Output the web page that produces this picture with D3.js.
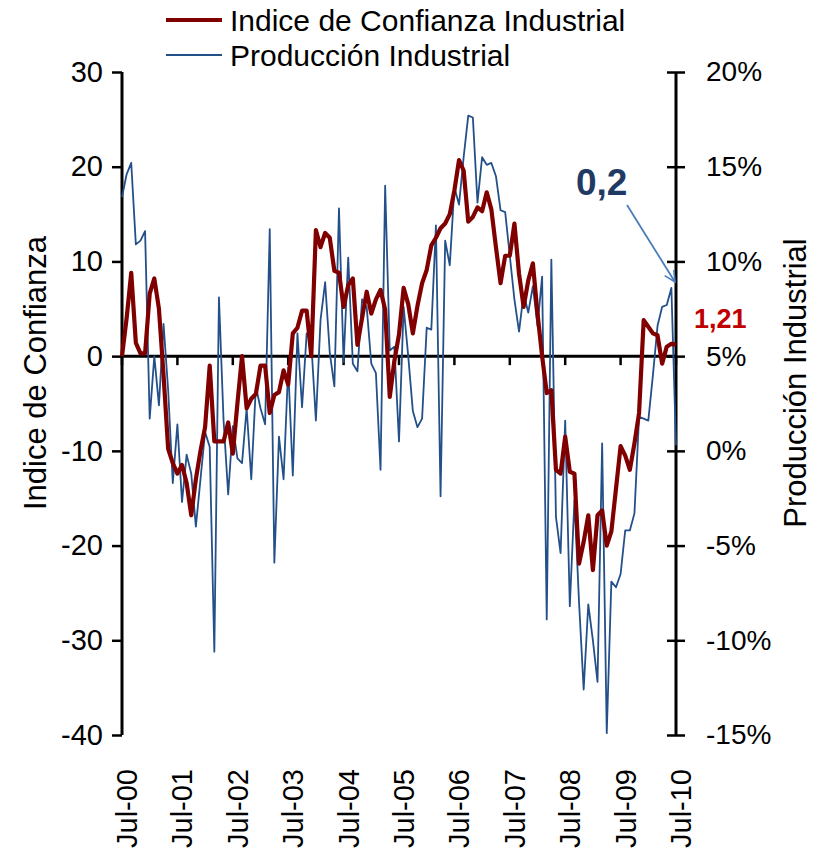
<!DOCTYPE html>
<html>
<head>
<meta charset="utf-8">
<script src="https://cdn.jsdelivr.net/npm/d3@7"></script>
<style>
  body { margin: 0; background: #fff; }
  text { font-family: "Liberation Sans", Arial, sans-serif; }
</style>
</head>
<body>
<script>
// monthly values, Jul-00 .. Jul-10
var confianza = [0, 4, 8.8, 1.4, 0.3, 0.3, 6.6, 8.2, 5, -2,
  -9.8, -11.3, -12.4, -11.5, -13.4, -16.8, -13, -10, -7.5, -1,
  -9, -9, -9, -7, -10.3, -5, 0, -5.5, -4.5, -4,
  -1, -1, -6, -4.1, -3.8, -1.5, -3, 2.4, 3, 4.8,
  4.8, 0, 13.3, 11.5, 13, 12.5, 9, 8.8, 5.2, 7.5,
  8.2, 1.2, 4, 6.8, 4.5, 6, 7, 4.9, -4.3, -0.5,
  2.3, 7.2, 5.5, 2.4, 5.3, 7.7, 9.1, 11.7, 12.5, 13.5,
  14, 15, 17.5, 20.7, 19.6, 14.2, 14.7, 15.7, 15.3, 17.3,
  15.5, 11.5, 7.7, 10.6, 10.6, 14, 8.7, 5.2, 8, 9.8,
  4.5, 0, -3.9, -3.6, -12, -12.4, -8.5, -12.2, -12.4, -21.9,
  -19.6, -16.8, -22.6, -16.8, -16.3, -20, -18.5, -14, -9.5, -10.5,
  -12, -9.2, -6, 3.8, 3.1, 2.4, 2.2, -0.8, 1, 1.3,
  1.21];

var produccion = [13.4, 14.6, 15.2, 10.9, 11.1, 11.6, 1.7, 5.0, 2.4, 6.7,
  3.2, -1.7, 1.4, -2.7, -0.2, -1.2, -4.0, -1.5, 1.0, 0.2,
  -10.6, 8.1, 1.6, -2.3, 1.3, -0.4, -0.65, 2.25, -1.5, 3.4,
  2.25, 1.4, 11.7, -5.9, 0.75, -1.5, 4.4, -1.3, 6.2, 2.3,
  6.2, 5.7, 1.6, 6.9, 8.9, 5.2, 3.4, 12.8, 4.7, 10.2,
  4.6, 4.2, 8.0, 7.6, 4.6, 4.1, -1, 14, 5.3, 5.5,
  0.5, 7.6, 5, 2.1, 1.25, 1.7, 6.5, 6.4, 11.9, -2.4,
  11.1, 9.8, 13.9, 13, 15.5, 17.7, 17.6, 13.1, 15.5, 15.1,
  15.2, 14.5, 12.7, 12.6, 10.3, 8, 6.3, 8.3, 7.3, 8.7,
  6.6, 9.2, -8.9, 10.1, -3.5, -5.4, 1.6, -8.2, -2.6, -8,
  -12.6, -8.1, -10, -12.2, 0.4, -14.9, -6.9, -7.2, -6.5, -4.2,
  -4.2, -3.3, 1.8, 1.7, 1.6, 4.0, 6.6, 7.6, 7.7, 8.6,
  0.3];

var yearLabels = ["Jul-00", "Jul-01", "Jul-02", "Jul-03", "Jul-04", "Jul-05",
  "Jul-06", "Jul-07", "Jul-08", "Jul-09", "Jul-10"];
var leftTicks = [30, 20, 10, 0, -10, -20, -30, -40];
var rightTicks = [20, 15, 10, 5, 0, -5, -10, -15];

var width = 823, height = 858;
var red = "#800000", blue = "#24508a";
var font = "Liberation Sans, Arial, sans-serif";

var x = d3.scaleLinear().domain([0, confianza.length - 1]).range([122, 676]);
var yL = d3.scaleLinear().domain([-40, 30]).range([735, 72]);
var yR = d3.scaleLinear().domain([-15, 20]).range([735, 72]);

var svg = d3.select("body").append("svg")
    .attr("width", width)
    .attr("height", height);

// zero line + year ticks on it
svg.append("line")
    .attr("x1", x(0)).attr("x2", x(120))
    .attr("y1", yL(0)).attr("y2", yL(0))
    .attr("stroke", "#000").attr("stroke-width", 3);

svg.selectAll(".xtick").data(yearLabels).enter().append("line")
    .attr("x1", function(d, i) { return x(i * 12); })
    .attr("x2", function(d, i) { return x(i * 12); })
    .attr("y1", yL(0)).attr("y2", yL(0) + 9)
    .attr("stroke", "#000").attr("stroke-width", 2.5);

// left axis
var leftAxis = d3.axisLeft(yL).tickValues(leftTicks).tickSize(10).tickPadding(9)
    .tickFormat(function(d) { return String(d); });
var gl = svg.append("g").attr("transform", "translate(122,0)").call(leftAxis);
gl.select(".domain").attr("stroke-width", 3).attr("d", "M0," + yL(-40) + "V" + yL(30));
gl.selectAll(".tick line").attr("stroke-width", 2.5);
gl.selectAll("text").attr("font-size", 29).attr("fill", "#000").style("font-family", font);

// right axis
var rightAxis = d3.axisRight(yR).tickValues(rightTicks).tickSize(9).tickPadding(21)
    .tickFormat(function(d) { return d + "%"; });
var gr = svg.append("g").attr("transform", "translate(676,0)").call(rightAxis);
gr.select(".domain").attr("stroke-width", 3).attr("d", "M0," + yR(-15) + "V" + yR(20));
gr.selectAll(".tick line").attr("x1", -9).attr("stroke-width", 2.5);
gr.selectAll("text").attr("font-size", 28).attr("fill", "#000").style("font-family", font);

// x labels (rotated)
svg.selectAll(".xlab").data(yearLabels).enter().append("text")
    .attr("transform", function(d, i) { return "translate(" + (x(i * 12) + 15) + ",769) rotate(-90)"; })
    .attr("text-anchor", "end")
    .attr("font-size", 29)
    .text(function(d) { return d; });

// series
var lineL = d3.line().x(function(d, i) { return x(i); }).y(function(d) { return yL(d); });
var lineR = d3.line().x(function(d, i) { return x(i); }).y(function(d) { return yR(d); });

svg.append("path").datum(produccion)
    .attr("d", lineR)
    .attr("fill", "none").attr("stroke", blue).attr("stroke-width", 1.8)
    .attr("stroke-linejoin", "round");

svg.append("path").datum(confianza)
    .attr("d", lineL)
    .attr("fill", "none").attr("stroke", red).attr("stroke-width", 4.2)
    .attr("stroke-linejoin", "round");

// axis titles
svg.append("text")
    .attr("transform", "translate(46,373) rotate(-90)")
    .attr("text-anchor", "middle").attr("font-size", 31)
    .text("Indice de Confianza");
svg.append("text")
    .attr("transform", "translate(806,383) rotate(-90)")
    .attr("text-anchor", "middle").attr("font-size", 31)
    .text("Producción Industrial");

// legend
svg.append("line").attr("x1", 166).attr("x2", 222).attr("y1", 20).attr("y2", 20)
    .attr("stroke", red).attr("stroke-width", 4.2);
svg.append("text").attr("x", 230).attr("y", 31).attr("font-size", 30)
    .text("Indice de Confianza Industrial");
svg.append("line").attr("x1", 166).attr("x2", 222).attr("y1", 55).attr("y2", 55)
    .attr("stroke", blue).attr("stroke-width", 1.8);
svg.append("text").attr("x", 230).attr("y", 66).attr("font-size", 30)
    .text("Producción Industrial");

// annotations
svg.append("defs").append("marker")
    .attr("id", "arr").attr("viewBox", "0 0 12 12")
    .attr("refX", 11).attr("refY", 6)
    .attr("markerWidth", 13).attr("markerHeight", 13)
    .attr("markerUnits", "userSpaceOnUse")
    .attr("orient", "auto")
  .append("path")
    .attr("d", "M1,1 L11,6 L1,11")
    .attr("fill", "none").attr("stroke", "#4a7ebb").attr("stroke-width", 1.5);

svg.append("line")
    .attr("x1", 627).attr("y1", 205).attr("x2", 675).attr("y2", 282)
    .attr("stroke", "#4a7ebb").attr("stroke-width", 1.8)
    .attr("marker-end", "url(#arr)");

svg.append("text").attr("x", 576).attr("y", 195)
    .attr("font-size", 37).attr("font-weight", "bold").attr("fill", "#1f3b63")
    .text("0,2");
svg.append("text").attr("x", 694).attr("y", 328)
    .attr("font-size", 27).attr("font-weight", "bold").attr("fill", "#c00000")
    .text("1,21");
</script>
</body>
</html>
